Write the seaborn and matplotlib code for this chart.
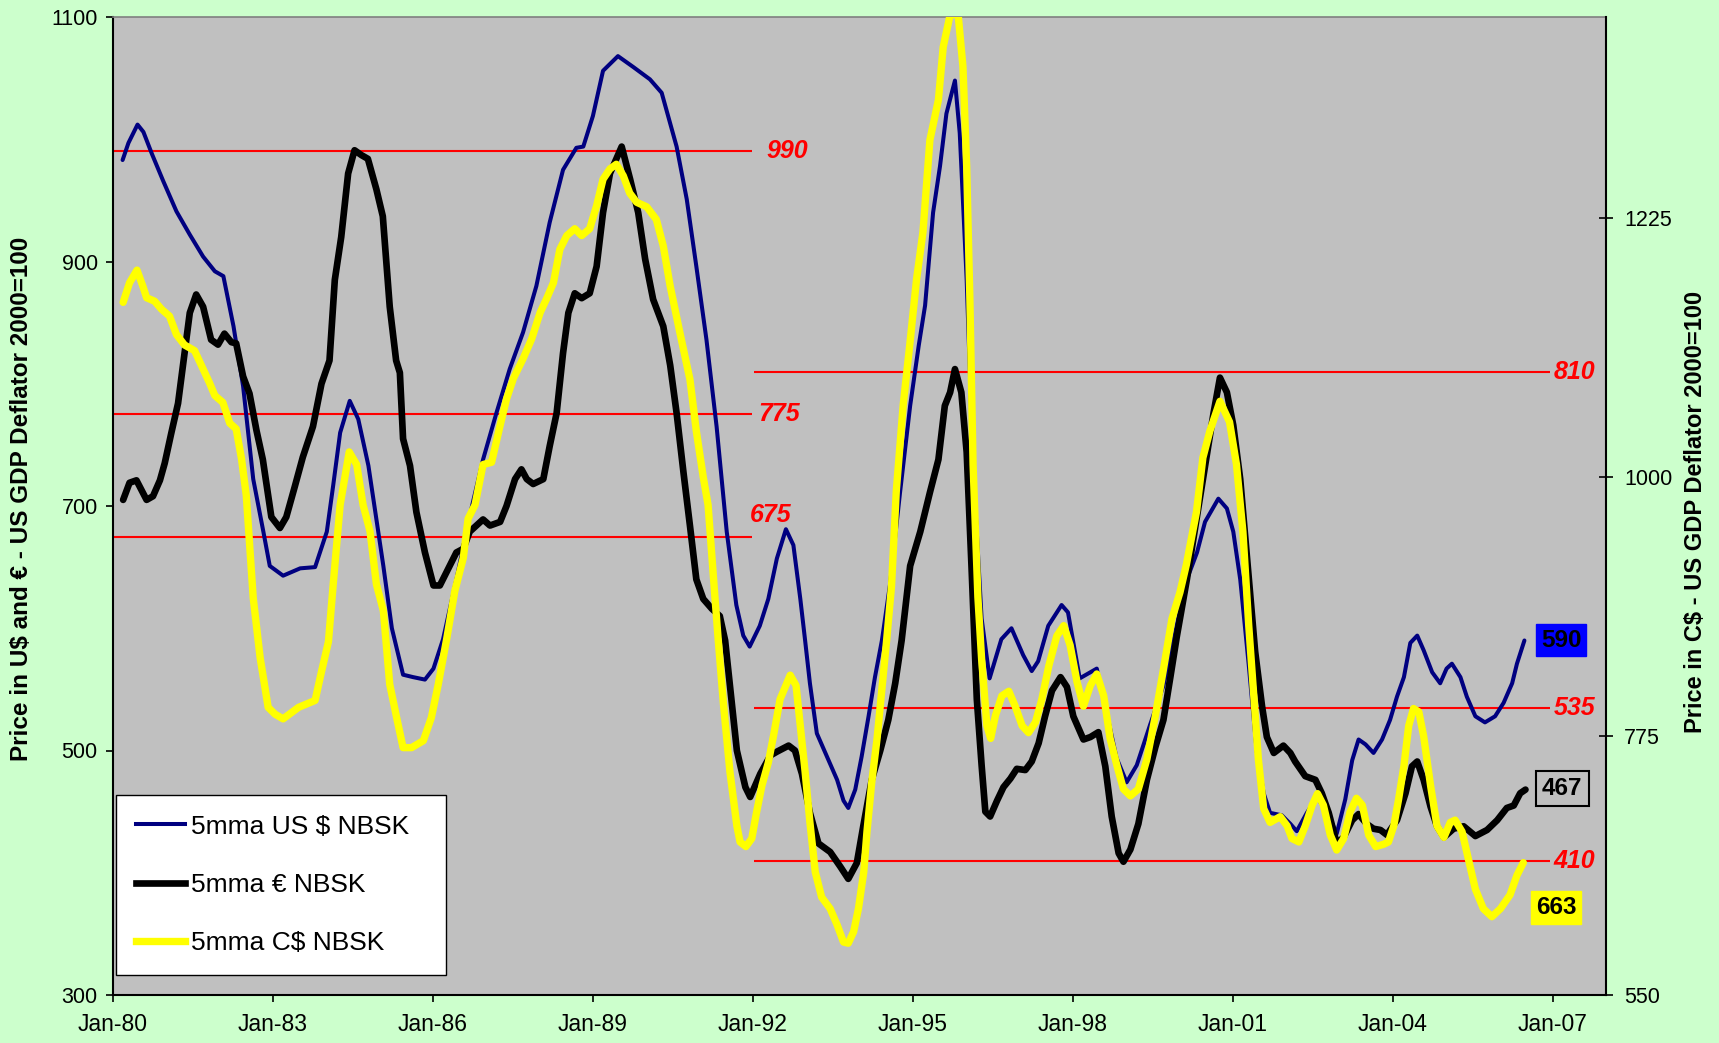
import numpy as np
import matplotlib
matplotlib.use("Agg")
import matplotlib.pyplot as plt
import seaborn as sns

plt.rcParams['font.family'] = ['Liberation Sans', 'DejaVu Sans']

BASE = 1980
# ---- 5mma US $ NBSK (left axis) : years after Jan-80, value
us_t = [0.18,0.29,0.46,0.57,0.73,0.94,1.19,1.44,1.69,1.91,2.07,2.26,2.44,2.63,2.82,2.94,3.19,3.51,3.79,4.01,
        4.13,4.26,4.44,4.60,4.79,4.94,5.07,5.23,5.44,5.63,5.85,6.01,6.19,6.44,6.69,6.94,7.19,7.44,7.69,7.94,
        8.19,8.44,8.69,8.82,9.00,9.19,9.47,9.76,10.07,10.29,10.57,10.76,10.94,11.13,11.32,11.51,11.69,11.82,11.94,12.13,
        12.29,12.45,12.62,12.76,12.89,12.98,13.07,13.20,13.39,13.58,13.70,13.79,13.92,14.04,14.17,14.29,14.42,14.57,14.76,14.95,
        15.11,15.23,15.38,15.51,15.63,15.79,15.88,16.01,16.13,16.29,16.44,16.66,16.85,17.07,17.23,17.35,17.54,17.79,17.91,18.13,
        18.45,18.63,18.82,19.01,19.20,19.45,19.70,19.95,20.14,20.33,20.48,20.73,20.89,21.01,21.14,21.30,21.45,21.58,21.70,21.92,
        22.08,22.20,22.39,22.58,22.77,22.95,23.11,23.24,23.36,23.49,23.64,23.80,23.95,24.08,24.21,24.33,24.46,24.58,24.74,24.89,
        25.01,25.11,25.27,25.39,25.55,25.73,25.92,26.08,26.24,26.33,26.47]
us_v = [983,997,1012,1006,988,966,941,922,904,892,888,847,798,722,679,651,643,649,650,679,
        717,760,786,771,733,689,651,600,562,560,558,567,591,640,692,738,776,812,842,880,
        932,975,993,994,1019,1056,1068,1059,1049,1038,994,951,896,836,765,679,619,594,585,602,
        624,657,681,668,624,590,555,514,495,476,459,453,468,495,528,560,590,635,711,782,
        831,864,940,978,1021,1048,1005,885,733,608,559,591,600,578,565,573,602,619,613,559,
        567,532,494,474,488,521,553,602,640,662,687,706,698,679,640,570,499,465,449,447,
        440,434,449,462,449,432,460,492,509,505,498,509,525,544,560,588,594,582,564,555,
        567,571,560,544,528,523,528,539,555,571,590]

# ---- 5mma EUR NBSK (left axis)
eu_t = [0.19,0.31,0.44,0.63,0.75,0.88,0.97,1.09,1.22,1.31,1.44,1.56,1.69,1.84,1.97,2.09,2.22,2.31,2.44,2.56,
        2.69,2.81,2.97,3.13,3.25,3.41,3.56,3.75,3.91,4.06,4.16,4.28,4.41,4.53,4.66,4.78,4.94,5.06,5.19,5.31,
        5.38,5.44,5.57,5.69,5.85,6.01,6.13,6.29,6.44,6.57,6.69,6.94,7.07,7.26,7.38,7.54,7.66,7.76,7.88,8.07,
        8.19,8.32,8.44,8.54,8.66,8.79,8.94,9.07,9.19,9.32,9.54,9.70,9.85,9.98,10.13,10.32,10.45,10.57,10.70,10.82,
        10.94,11.07,11.23,11.38,11.48,11.70,11.86,11.95,12.14,12.33,12.45,12.67,12.79,12.92,13.07,13.23,13.45,13.64,13.79,13.95,
        14.07,14.23,14.39,14.54,14.67,14.79,14.95,15.14,15.32,15.48,15.60,15.70,15.79,15.91,16.01,16.10,16.20,16.29,16.36,16.45,
        16.58,16.70,16.83,16.95,17.11,17.23,17.36,17.48,17.61,17.77,17.89,18.01,18.20,18.33,18.48,18.61,18.73,18.86,18.95,19.08,
        19.23,19.39,19.55,19.70,19.83,19.95,20.14,20.32,20.48,20.64,20.76,20.89,21.01,21.14,21.29,21.42,21.55,21.64,21.77,21.95,
        22.08,22.17,22.36,22.55,22.67,22.80,22.95,23.08,23.24,23.36,23.51,23.64,23.77,23.89,24.08,24.24,24.36,24.46,24.58,24.71,
        24.83,24.96,25.14,25.33,25.55,25.77,25.96,26.14,26.27,26.39,26.49]
eu_v = [705,719,721,705,708,721,735,759,784,814,858,873,863,836,832,841,834,833,806,792,
        762,738,691,682,691,716,740,765,800,819,885,920,972,991,987,984,959,937,863,819,
        809,755,733,695,662,635,635,649,662,665,679,689,684,687,700,722,730,722,718,722,
        749,776,825,858,874,870,874,896,940,972,994,967,940,902,869,847,815,776,727,684,
        640,624,616,610,590,500,470,462,481,496,499,504,500,481,449,424,417,405,395,408,
        438,476,500,525,555,590,651,679,711,738,782,793,812,793,744,651,542,488,450,446,
        459,470,477,485,484,491,506,528,549,560,552,528,509,511,515,487,446,416,409,419,
        440,476,503,525,560,593,640,689,733,776,805,793,766,722,646,581,536,511,498,504,
        498,491,479,476,465,449,424,429,443,448,440,436,435,431,443,465,487,491,476,454,
        438,429,436,438,430,435,443,453,455,465,468]

# ---- 5mma C$ NBSK (right axis)
ca_t = [0.19,0.31,0.45,0.56,0.63,0.78,0.91,1.06,1.19,1.34,1.53,1.66,1.81,1.91,2.06,2.19,2.31,2.41,2.50,2.63,
        2.76,2.91,3.04,3.19,3.48,3.79,3.91,4.04,4.13,4.26,4.43,4.57,4.69,4.82,4.94,5.07,5.19,5.32,5.44,5.60,
        5.82,5.97,6.10,6.26,6.41,6.57,6.66,6.79,6.94,7.10,7.26,7.38,7.51,7.69,7.85,8.01,8.13,8.26,8.38,8.51,
        8.66,8.79,8.94,9.07,9.19,9.32,9.44,9.57,9.69,9.82,10.01,10.19,10.32,10.45,10.63,10.82,10.94,11.07,11.16,11.29,
        11.35,11.45,11.57,11.70,11.76,11.87,11.98,12.07,12.17,12.29,12.39,12.51,12.70,12.81,12.89,12.98,13.07,13.17,13.29,13.45,
        13.58,13.70,13.79,13.89,13.98,14.08,14.14,14.23,14.33,14.42,14.51,14.60,14.69,14.82,14.94,15.07,15.19,15.32,15.48,15.57,
        15.70,15.85,15.94,16.01,16.07,16.13,16.22,16.29,16.39,16.46,16.55,16.67,16.80,16.92,17.05,17.17,17.30,17.42,17.55,17.70,
        17.83,17.95,18.08,18.20,18.33,18.45,18.58,18.70,18.83,18.95,19.08,19.23,19.39,19.55,19.70,19.86,20.01,20.13,20.32,20.44,
        20.57,20.76,20.94,21.07,21.19,21.30,21.39,21.48,21.58,21.70,21.89,22.02,22.11,22.24,22.36,22.49,22.59,22.70,22.83,22.95,
        23.08,23.20,23.32,23.43,23.55,23.68,23.83,23.92,24.02,24.11,24.21,24.30,24.39,24.49,24.58,24.71,24.83,24.96,25.08,25.17,
        25.30,25.42,25.55,25.70,25.86,26.02,26.20,26.33,26.45]
ca_v = [1152,1169,1180,1166,1156,1153,1146,1140,1124,1115,1110,1097,1082,1071,1065,1047,1042,1016,984,895,
        843,800,794,790,800,806,831,857,907,976,1022,1011,976,953,907,884,820,791,765,765,
        771,791,820,860,901,930,964,976,1011,1013,1045,1068,1086,1103,1120,1143,1155,1169,1198,1210,
        1216,1210,1216,1236,1259,1268,1272,1262,1247,1239,1235,1224,1201,1166,1126,1085,1040,1000,976,895,
        859,802,744,697,683,679,686,709,732,752,776,807,828,819,784,744,700,657,635,625,
        611,596,595,605,625,657,692,735,773,816,859,905,988,1063,1114,1172,1213,1293,1328,1374,
        1402,1402,1357,1270,1155,1011,896,842,784,773,793,810,814,801,784,778,787,807,836,862,
        871,854,822,801,819,829,810,773,749,729,723,729,755,793,833,877,900,924,970,1017,
        1040,1066,1048,1011,953,871,813,755,712,700,705,697,686,683,697,715,725,715,689,676,
        686,709,721,715,689,679,681,683,697,720,749,784,799,796,775,732,697,687,700,702,
        692,668,642,625,618,625,637,654,665]

series_names = ["5mma US $ NBSK", "5mma € NBSK", "5mma C$ NBSK"]
series_colors = ["#000080", "#000000", "#FFFF00"]
series_widths = [2.9, 4.8, 5.3]

early_levels = [990, 775, 675]
early_span = (1980.0, 1991.98)
late_levels = [810, 535, 410]
late_span = (1992.02, 2006.95)

xtick_years = [1980, 1983, 1986, 1989, 1992, 1995, 1998, 2001, 2004, 2007]
xtick_labels = ["Jan-80", "Jan-83", "Jan-86", "Jan-89", "Jan-92", "Jan-95", "Jan-98", "Jan-01", "Jan-04", "Jan-07"]
left_ticks = [300, 500, 700, 900, 1100]
right_ticks = [550, 775, 1000, 1225]

last_values = [590, 467, 663]

# ---------------------------------------------------------------
W, H = 1719, 1043
fig = plt.figure(figsize=(W / 100, H / 100), dpi=100, facecolor="#CCFFCC")
ax = fig.add_axes([113 / W, 1 - 995 / H, (1606 - 113) / W, (995 - 17) / H])
ax.set_facecolor("#C0C0C0")
ax2 = ax.twinx()

# red reference lines
ax.hlines(early_levels, early_span[0], early_span[1], colors="#FF0000", linewidth=1.5, zorder=1.5)
ax.hlines(late_levels, late_span[0], late_span[1], colors="#FF0000", linewidth=1.5, zorder=1.5)

us_x = [BASE + t for t in us_t]
eu_x = [BASE + t for t in eu_t]
ca_x = [BASE + t for t in ca_t]

kw = dict(estimator=None, solid_capstyle="round", solid_joinstyle="round", legend=False)
sns.lineplot(x=us_x, y=us_v, ax=ax, color=series_colors[0], linewidth=series_widths[0], zorder=3, **kw)
sns.lineplot(x=eu_x, y=eu_v, ax=ax, color=series_colors[1], linewidth=series_widths[1], zorder=4, **kw)
sns.lineplot(x=ca_x, y=ca_v, ax=ax2, color=series_colors[2], linewidth=series_widths[2], zorder=3, **kw)
ax.set_xlim(1980, 2008)
ax.set_ylim(300, 1100)
ax2.set_ylim(550, 1400)

# ticks
ax.set_xticks(xtick_years)
ax.set_xticklabels(xtick_labels)
ax.set_yticks(left_ticks)
ax.set_yticklabels([str(v) for v in left_ticks])
ax2.set_yticks(right_ticks)
ax2.set_yticklabels([str(v) for v in right_ticks])
ax.tick_params(axis="x", direction="out", length=5, width=1.2, pad=8, labelsize=16.5, colors="black")
ax.tick_params(axis="y", direction="out", length=5, width=1.2, pad=6, labelsize=15.5, colors="black")
ax2.tick_params(axis="y", direction="inout", length=10, width=1.2, pad=8, labelsize=15.5, colors="black")
ax.set_xlabel("")
ax.set_ylabel("")
ax2.set_ylabel("")

for s in ["left", "bottom"]:
    ax.spines[s].set_color("black")
    ax.spines[s].set_linewidth(1.5)
ax.spines["top"].set_color("#808080")
ax.spines["top"].set_linewidth(1.2)
ax.spines["right"].set_visible(False)
for s in ["top", "left", "bottom"]:
    ax2.spines[s].set_visible(False)
ax2.spines["right"].set_color("black")
ax2.spines["right"].set_linewidth(1.5)

# axis titles
fig.text(22 / W, 1 - 499 / H, "Price in U$ and € - US GDP Deflator 2000=100", rotation=90,
         ha="center", va="center", fontsize=17.5, fontweight="bold")
fig.text(1695 / W, 1 - 512 / H, "Price in C$ - US GDP Deflator 2000=100", rotation=90,
         ha="center", va="center", fontsize=17, fontweight="bold")

# level labels
red_kw = dict(color="#FF0000", fontsize=18, fontweight="bold", fontstyle="italic", ha="center", va="center")
ax.text(1992.64, early_levels[0], str(early_levels[0]), **red_kw)
ax.text(1992.49, early_levels[1], str(early_levels[1]), **red_kw)
ax.text(1992.34, early_levels[2] + 18, str(early_levels[2]), **red_kw)
for lv in late_levels:
    ax.text(2007.41, lv, str(lv), **red_kw)

# last-value boxes
box_kw = dict(fontsize=17.5, fontweight="bold", color="black", ha="center", va="center", zorder=6)
ax2.text(2007.16, 1400 - (641 - 17) / 1.1524, str(last_values[0]),
         bbox=dict(boxstyle="square,pad=0.2", fc="#0000FF", ec="#0000FF"), **box_kw)
ax2.text(2007.18, 1400 - (790 - 17) / 1.1524, str(last_values[1]),
         bbox=dict(boxstyle="square,pad=0.25", fc="#C0C0C0", ec="black", lw=1.5), **box_kw)
ax2.text(2007.06, 1400 - (909 - 17) / 1.1524, str(last_values[2]),
         bbox=dict(boxstyle="square,pad=0.2", fc="#FFFF00", ec="#FFFF00"), **box_kw)

# legend
from matplotlib.lines import Line2D
handles = [Line2D([0], [0], color=c, linewidth=w) for c, w in zip(series_colors, series_widths)]
leg = ax2.legend(handles, series_names, loc="lower left",
                 bbox_to_anchor=(3 / 1493, 20 / 978, 330 / 1493, 175 / 978), mode="expand",
                 borderaxespad=0, frameon=True, fancybox=False, edgecolor="black", facecolor="white",
                 framealpha=1, fontsize=19, handlelength=1.86, handletextpad=0.25, labelspacing=1.3,
                 borderpad=0.75)
leg.get_frame().set_linewidth(1.0)
leg.set_zorder(10)

fig.savefig("out.png", dpi=100, facecolor=fig.get_facecolor())
